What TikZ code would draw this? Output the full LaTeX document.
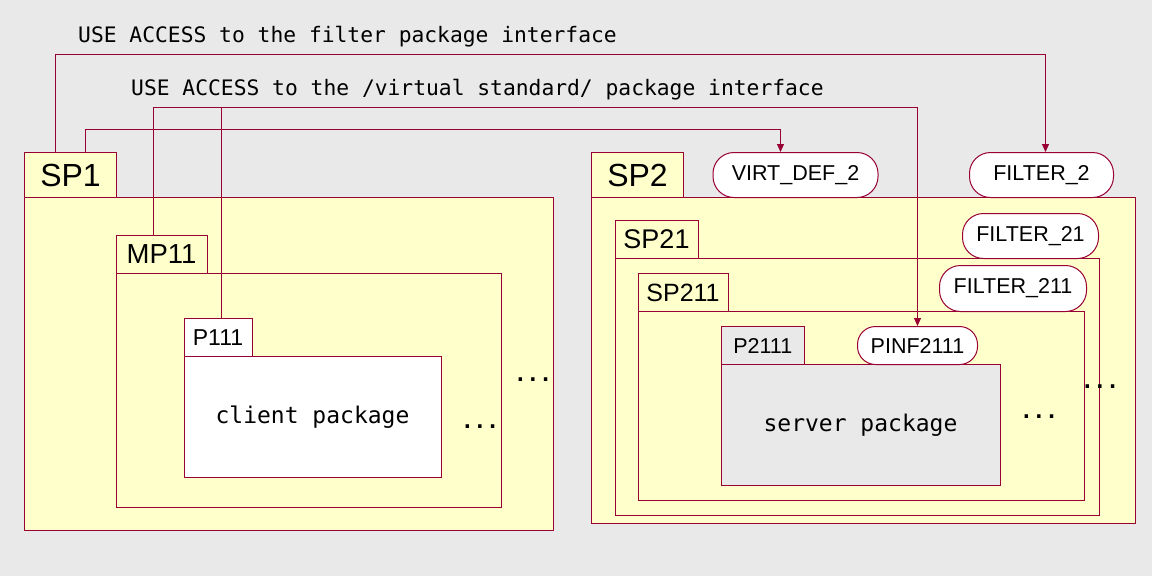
\documentclass[tikz,border=0pt]{standalone}
\usepackage{fontspec}
\setmainfont{Liberation Sans}
\newfontfamily\monof{DejaVu Sans Mono}
\usetikzlibrary{arrows.meta}
\definecolor{bgc}{HTML}{E9E9E9}
\definecolor{pkgy}{HTML}{FFFFCC}
\definecolor{lnc}{HTML}{990033}
\begin{document}
\begin{tikzpicture}[x=1pt,y=-1pt,
  box/.style={draw=lnc,line width=1pt,fill=pkgy,anchor=north west,inner sep=0pt,align=center},
  pill/.style={draw=lnc,line width=1pt,fill=white,anchor=north west,inner sep=0pt,rounded corners=21pt,font=\fontsize{21.5}{24}\selectfont},
  conn/.style={draw=lnc,line width=1pt},
  tip/.style={-{Triangle[length=8pt,width=7pt]}},
  mono/.style={font=\monof\fontsize{21.3}{25}\selectfont,inner sep=0pt},
  dots/.style={font=\monof\bfseries\fontsize{21}{24}\selectfont,inner sep=0pt,anchor=base}]
\fill[bgc] (0,0) rectangle (1152,576);
\useasboundingbox (0,0) rectangle (1152,576);

% titles
\node[mono,anchor=base west] (t1) at (78,42) {USE ACCESS to the filter package interface};
\node[mono,anchor=base west] (t2) at (131,95) {USE ACCESS to the /virtual standard/ package interface};

% SP1
\node[box,minimum width=92pt,minimum height=45pt,font=\fontsize{32}{36}\selectfont] (sp1tab) at (24,152) {SP1};
\node[box,minimum width=529pt,minimum height=333pt] (sp1) at (24,197) {};
\node[box,minimum width=91pt,minimum height=38pt,font=\fontsize{27.5}{30}\selectfont] (mp11tab) at (115.5,235) {MP11};
\node[box,minimum width=385pt,minimum height=234pt] (mp11) at (115.5,273) {};
\node[box,fill=white,minimum width=68pt,minimum height=38pt,font=\fontsize{23}{26}\selectfont] (p111tab) at (183.5,318) {P111};
\node[box,fill=white,minimum width=257pt,minimum height=121pt,font=\monof\fontsize{23}{26}\selectfont] (p111) at (183.5,356) {\raisebox{3pt}{client package}};
\node[dots] (d1) at (480,428) {...};
\node[dots] (d2) at (533,381) {...};

% SP2
\node[box,minimum width=92pt,minimum height=45pt,font=\fontsize{32}{36}\selectfont] (sp2tab) at (591,152) {SP2};
\node[box,minimum width=544pt,minimum height=326pt] (sp2) at (591,197) {};
\node[box,minimum width=83pt,minimum height=38pt,font=\fontsize{27}{30}\selectfont] (sp21tab) at (614.5,220) {SP21};
\node[box,minimum width=484pt,minimum height=257pt] (sp21) at (614.5,258) {};
\node[box,minimum width=90pt,minimum height=38pt,font=\fontsize{25}{28}\selectfont] (sp211tab) at (637.5,273) {SP211};
\node[box,minimum width=446pt,minimum height=189pt] (sp211) at (637.5,311) {};
\node[box,fill=bgc,minimum width=83.5pt,minimum height=38pt,font=\fontsize{21.5}{24}\selectfont] (p2111tab) at (720.5,326) {P2111};
\node[box,fill=bgc,minimum width=279pt,minimum height=121pt,font=\monof\fontsize{23}{26}\selectfont] (p2111) at (720.5,364) {\raisebox{1pt}{server package}};
\node[dots] (d3) at (1039,418) {...};
\node[dots] (d4) at (1100,388) {...};

% interfaces
\node[pill,minimum width=165pt,minimum height=45pt] (virt2) at (712.5,152) {\raisebox{2pt}{VIRT\_DEF\_2}};
\node[pill,minimum width=144pt,minimum height=45pt] (filter2) at (969,152) {\raisebox{2pt}{FILTER\_2}};
\node[pill,minimum width=136pt,minimum height=45pt] (filter21) at (962,213) {FILTER\_21};
\node[pill,minimum width=147pt,minimum height=46pt] (filter211) at (939,265) {FILTER\_211};
\node[pill,rounded corners=18pt,minimum width=120pt,minimum height=38pt] (pinf) at (857,326) {PINF2111};

% connectors
\coordinate (fy) at (0,54);
\coordinate (vy) at (0,129);
\coordinate (py) at (0,107);
\coordinate (s1a) at ([xshift=31pt]sp1tab.north west);
\coordinate (s1b) at ([xshift=61pt]sp1tab.north west);
\coordinate (m1) at ([xshift=38pt]mp11tab.north west);
\coordinate (p1) at ([xshift=37.5pt]p111tab.north west);
\coordinate (fe) at ([xshift=4pt]filter2.north);
\coordinate (ve) at ([xshift=-15pt]virt2.north);
\draw[conn,tip] (s1a) |- (fy -| fe) -- (fe);
\draw[conn,tip] (s1b) |- (vy -| ve) -- (ve);
\draw[conn,tip] (m1) |- (py -| pinf.north) -- (pinf.north);
\draw[conn] (p1) -- (p1 |- py);
\end{tikzpicture}
\end{document}
